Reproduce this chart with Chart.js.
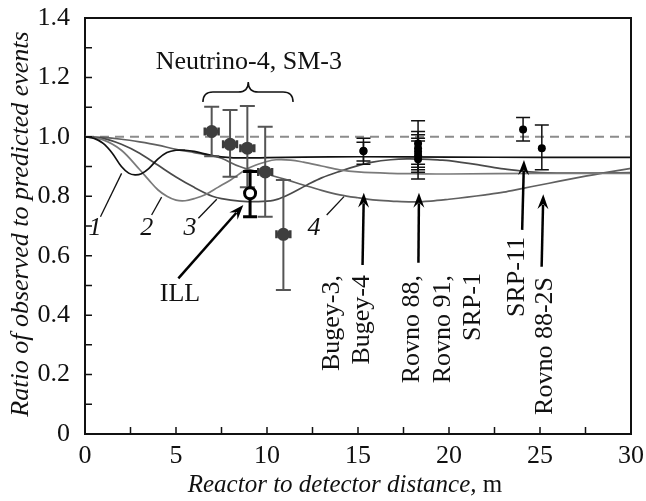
<!DOCTYPE html>
<html>
<head>
<meta charset="utf-8">
<script src="https://cdn.jsdelivr.net/npm/chart.js@4.4.1/dist/chart.umd.min.js"></script>
<style>
  html, body { margin: 0; padding: 0; background: #fff; }
</style>
</head>
<body>
<canvas id="chart" width="646" height="501"></canvas>
<script>
// values
const curve1X = [0, 0.5, 1, 1.5, 2, 2.4, 2.75, 3.1, 3.5, 4, 4.5, 5, 5.5, 6, 7, 8, 9, 10, 12, 15, 20, 25, 30];
const curve1Y = [1.0, 0.995, 0.978, 0.945, 0.9, 0.878, 0.872, 0.876, 0.893, 0.925, 0.947, 0.955, 0.955, 0.951, 0.937, 0.93, 0.929, 0.93, 0.932, 0.933, 0.932, 0.931, 0.931];

const curve2X = [0, 1, 2, 3, 3.5, 4, 4.5, 5, 5.5, 6, 6.6, 7.3, 8, 9, 10, 10.5, 11.3, 12, 13, 14, 15, 16.8, 18, 20, 25, 30];
const curve2Y = [1.0, 0.99, 0.955, 0.89, 0.855, 0.822, 0.8, 0.787, 0.785, 0.792, 0.805, 0.83, 0.855, 0.895, 0.917, 0.923, 0.922, 0.915, 0.902, 0.889, 0.882, 0.877, 0.876, 0.875, 0.877, 0.877];

const curve3X = [0, 1, 2, 3, 4, 5, 6, 7, 7.5, 8.5, 9.5, 10.35, 11, 12.2, 13, 14, 15, 15.8, 16.8, 17.7, 18.5, 19.5, 20, 21.7, 23, 24, 25, 27, 30];
const curve3Y = [1.0, 0.995, 0.975, 0.945, 0.905, 0.865, 0.83, 0.8, 0.792, 0.784, 0.782, 0.786, 0.8, 0.838, 0.862, 0.884, 0.903, 0.915, 0.923, 0.926, 0.925, 0.922, 0.92, 0.905, 0.892, 0.885, 0.88, 0.878, 0.88];

const curve4X = [0, 1, 2, 3, 4, 5, 6, 7, 7.5, 8.5, 10, 11, 12, 13, 14, 15, 16, 17, 18, 19, 20, 21, 22, 23, 24, 25, 26, 27, 28, 29, 30];
const curve4Y = [1.0, 0.998, 0.992, 0.983, 0.972, 0.958, 0.947, 0.936, 0.928, 0.9, 0.874, 0.857, 0.838, 0.82, 0.805, 0.795, 0.787, 0.783, 0.781, 0.784, 0.79, 0.797, 0.805, 0.814, 0.826, 0.838, 0.85, 0.862, 0.873, 0.884, 0.894];

// Neutrino-4, SM-3
const n4X = [6.96, 7.97, 8.92, 9.9, 10.9];
const n4Y = [1.018, 0.975, 0.962, 0.882, 0.672];
const n4Low = [0.935, 0.866, 0.83, 0.731, 0.485];
const n4High = [1.101, 1.09, 1.104, 1.034, 0.855];
const n4XErr = [0.38, 0.38, 0.38, 0.38, 0.38];

// ILL
const illX = [9.07];
const illY = [0.81];
const illLow = [0.731];
const illHigh = [0.883];

// Bugey-3, Bugey-4
const bugeyX = [15.3, 15.3];
const bugeyY = [0.952, 0.952];
const bugeyLow = [0.908, 0.919];
const bugeyHigh = [0.995, 0.982];

// Rovno 88, Rovno 91, SRP-1
const rovnoX = [18.3, 18.3, 18.3, 18.3, 18.3];
const rovnoY = [0.978, 0.962, 0.95, 0.938, 0.925];
const rovnoLow = [0.908, 0.898, 0.889, 0.881, 0.858];
const rovnoHigh = [1.054, 1.018, 1.007, 0.995, 0.986];

// SRP-11
const srpX = [24.07];
const srpY = [1.025];
const srpLow = [0.986];
const srpHigh = [1.065];

// Rovno 88-2S
const rov2sX = [25.1];
const rov2sY = [0.962];
const rov2sLow = [0.889];
const rov2sHigh = [1.04];

const FONT = "'Liberation Serif', 'Times New Roman', serif";

function pts(xs, ys) {
    return xs.map((x, i) => ({ x: x, y: ys[i] }));
}

function pointSet(label, xs, ys, lo, hi, style) {
    return Object.assign({
        type: 'scatter',
        label: label,
        data: pts(xs, ys),
        errLow: lo,
        errHigh: hi,
        showLine: false
    }, style);
}

const smallDot = {
    pointRadius: 4,
    pointBackgroundColor: '#000',
    pointBorderWidth: 0,
    errColor: '#111',
    errWidth: 1.5,
    capHalf: 7
};

// error bars are drawn just before the points of their dataset
const errorBars = {
    id: 'errorBars',
    beforeDatasetDraw(chart, args) {
        const ds = chart.data.datasets[args.index];
        if (!ds.errLow) return;
        const { ctx, scales: { x, y } } = chart;
        ctx.save();
        ctx.strokeStyle = ds.errColor;
        ctx.lineWidth = ds.errWidth;
        ds.data.forEach((p, i) => {
            const px = x.getPixelForValue(p.x);
            const lo = y.getPixelForValue(ds.errLow[i]);
            const hi = y.getPixelForValue(ds.errHigh[i]);
            const c = ds.capHalf;
            ctx.beginPath();
            ctx.moveTo(px, lo); ctx.lineTo(px, hi);
            ctx.moveTo(px - c, lo); ctx.lineTo(px + c, lo);
            ctx.moveTo(px - c, hi); ctx.lineTo(px + c, hi);
            ctx.stroke();
            if (ds.xErr) {
                const py = y.getPixelForValue(p.y);
                const l = x.getPixelForValue(p.x - ds.xErr[i]);
                const r = x.getPixelForValue(p.x + ds.xErr[i]);
                ctx.save();
                ctx.strokeStyle = '#3a3a3a';
                ctx.lineWidth = 2.5;
                ctx.beginPath();
                ctx.moveTo(l, py); ctx.lineTo(r, py);
                ctx.moveTo(l, py - 4); ctx.lineTo(l, py + 4);
                ctx.moveTo(r, py - 4); ctx.lineTo(r, py + 4);
                ctx.stroke();
                ctx.restore();
            }
        });
        ctx.restore();
    }
};

function arrow(ctx, x0, y0, x1, y1) {
    const a = Math.atan2(y1 - y0, x1 - x0);
    const L = 15, W = 5.5;
    ctx.beginPath();
    ctx.moveTo(x0, y0);
    ctx.lineTo(x1 - L * 0.7 * Math.cos(a), y1 - L * 0.7 * Math.sin(a));
    ctx.stroke();
    ctx.save();
    ctx.translate(x1, y1);
    ctx.rotate(a);
    ctx.beginPath();
    ctx.moveTo(0, 0);
    ctx.lineTo(-L, -W);
    ctx.lineTo(-L * 0.65, 0);
    ctx.lineTo(-L, W);
    ctx.closePath();
    ctx.fill();
    ctx.restore();
}

const decorations = {
    id: 'decorations',
    afterDraw(chart) {
        const { ctx, chartArea: a, scales: { x, y } } = chart;
        const X = v => x.getPixelForValue(v);
        const Y = v => y.getPixelForValue(v);
        ctx.save();

        // inward ticks
        ctx.strokeStyle = '#111';
        ctx.lineWidth = 1.5;
        ctx.beginPath();
        for (let v = 0.1; v < 1.4; v += 0.1) {
            ctx.moveTo(a.left, Y(v)); ctx.lineTo(a.left + 7, Y(v));
        }
        for (let v = 2.5; v < 30; v += 2.5) {
            ctx.moveTo(X(v), a.bottom); ctx.lineTo(X(v), a.bottom - 7);
        }
        ctx.stroke();

        // top and right frame
        ctx.lineWidth = 2;
        ctx.beginPath();
        ctx.moveTo(a.left, a.top); ctx.lineTo(a.right, a.top); ctx.lineTo(a.right, a.bottom);
        ctx.stroke();

        ctx.fillStyle = '#111';

        // axis titles
        const t1 = 'Reactor to detector distance, ';
        ctx.font = '25px ' + FONT;
        const wm = ctx.measureText('m').width;
        ctx.font = 'italic 25px ' + FONT;
        const w1 = ctx.measureText(t1).width;
        const sx = 345 - (w1 + wm) / 2;
        ctx.textBaseline = 'middle';
        ctx.textAlign = 'left';
        ctx.fillText(t1, sx, 485);
        ctx.font = '25px ' + FONT;
        ctx.fillText('m', sx + w1, 485);

        ctx.save();
        ctx.translate(21, 224);
        ctx.rotate(-Math.PI / 2);
        ctx.textAlign = 'center';
        ctx.font = 'italic 26px ' + FONT;
        ctx.fillText('Ratio of observed to predicted events', 0, 0);
        ctx.restore();

        // curve numbers with leaders
        ctx.lineWidth = 1.3;
        ctx.textAlign = 'center';
        ctx.font = 'italic 26px ' + FONT;
        const labels = [
            ['1', 0.55, 0.693, 0.85, 0.731, 2.01, 0.877],
            ['2', 3.39, 0.693, 3.66, 0.737, 4.21, 0.797],
            ['3', 5.77, 0.693, 6.23, 0.726, 7.24, 0.79],
            ['4', 12.58, 0.693, 13.28, 0.737, 14.23, 0.799]
        ];
        labels.forEach(l => {
            ctx.fillText(l[0], X(l[1]), Y(l[2]));
            ctx.beginPath();
            ctx.moveTo(X(l[3]), Y(l[4])); ctx.lineTo(X(l[5]), Y(l[6]));
            ctx.stroke();
        });

        // Neutrino-4 label and brace
        ctx.font = '26px ' + FONT;
        ctx.fillText('Neutrino-4, SM-3', X(9.0), Y(1.252));
        const bl = X(6.48), br = X(11.43), bm = X(8.97);
        const b0 = Y(1.117), b1 = Y(1.151), b2 = Y(1.185);
        ctx.lineWidth = 1.5;
        ctx.beginPath();
        ctx.moveTo(bl, b0);
        ctx.quadraticCurveTo(bl, b1, bl + 10, b1);
        ctx.lineTo(bm - 10, b1);
        ctx.quadraticCurveTo(bm, b1, bm, b2);
        ctx.quadraticCurveTo(bm, b1, bm + 10, b1);
        ctx.lineTo(br - 10, b1);
        ctx.quadraticCurveTo(br, b1, br, b0);
        ctx.stroke();

        // ILL
        ctx.fillText('ILL', X(5.22), Y(0.471));
        ctx.lineWidth = 2.5;
        ctx.fillStyle = '#000';
        ctx.strokeStyle = '#000';
        arrow(ctx, X(5.13), Y(0.524), X(8.7), Y(0.771));

        // vertical arrows to the experiments
        arrow(ctx, X(15.25), Y(0.569), X(15.32), Y(0.812));
        arrow(ctx, X(18.32), Y(0.576), X(18.35), Y(0.812));
        arrow(ctx, X(24.02), Y(0.687), X(24.12), Y(0.922));
        arrow(ctx, X(25.09), Y(0.563), X(25.18), Y(0.807));

        // rotated experiment names
        ctx.fillStyle = '#111';
        ctx.font = '26px ' + FONT;
        const names = [
            ['Bugey-3,', 331.7, 275],
            ['Bugey-4', 361.7, 275],
            ['Rovno 88,', 411.7, 275],
            ['Rovno 91,', 443.3, 275],
            ['SRP-1', 472.7, 273],
            ['SRP-11', 516.7, 237],
            ['Rovno 88-2S', 545, 277]
        ];
        names.forEach(n => {
            ctx.save();
            ctx.translate(n[1], n[2]);
            ctx.rotate(-Math.PI / 2);
            ctx.textAlign = 'right';
            ctx.textBaseline = 'middle';
            ctx.fillText(n[0], 0, 0);
            ctx.restore();
        });

        ctx.restore();
    }
};

function curve(xs, ys, color) {
    return {
        type: 'line',
        data: pts(xs, ys),
        borderColor: color,
        borderWidth: 1.7,
        pointRadius: 0,
        tension: 0.35,
        fill: false
    };
}

new Chart(document.getElementById('chart'), {
    type: 'scatter',
    data: {
        datasets: [
            pointSet('ILL', illX, illY, illLow, illHigh, {
                pointRadius: 5.5, pointBackgroundColor: '#fff', pointBorderColor: '#000',
                pointBorderWidth: 3, errColor: '#000', errWidth: 3, capHalf: 7
            }),
            pointSet('Neutrino-4', n4X, n4Y, n4Low, n4High, {
                pointRadius: 6.5, pointBackgroundColor: '#3e3e3e', pointBorderWidth: 0,
                errColor: '#555', errWidth: 2, capHalf: 7.5, xErr: n4XErr
            }),
            pointSet('Bugey', bugeyX, bugeyY, bugeyLow, bugeyHigh, smallDot),
            pointSet('Rovno', rovnoX, rovnoY, rovnoLow, rovnoHigh, smallDot),
            pointSet('SRP-11', srpX, srpY, srpLow, srpHigh, smallDot),
            pointSet('Rovno 88-2S', rov2sX, rov2sY, rov2sLow, rov2sHigh, smallDot),
            curve(curve1X, curve1Y, '#111'),
            curve(curve2X, curve2Y, '#7a7a7a'),
            curve(curve3X, curve3Y, '#4a4a4a'),
            curve(curve4X, curve4Y, '#606060'),
            {
                type: 'line',
                data: [{ x: 0, y: 1 }, { x: 30, y: 1 }],
                borderColor: '#8c8c8c',
                borderWidth: 2,
                borderDash: [9, 6],
                pointRadius: 0
            }
        ]
    },
    options: {
        responsive: false,
        animation: false,
        devicePixelRatio: 1,
        layout: { padding: { top: 18, right: 15, left: 0, bottom: 0 } },
        plugins: { legend: { display: false }, tooltip: { enabled: false } },
        scales: {
            x: {
                type: 'linear', min: 0, max: 30,
                grid: { display: false, drawTicks: false },
                border: { display: true, color: '#111', width: 2 },
                ticks: { stepSize: 5, padding: 7, color: '#111', font: { family: FONT, size: 26 } },
                afterFit(s) { s.height = 67; s.paddingLeft = 0; s.paddingRight = 0; }
            },
            y: {
                type: 'linear', min: 0, max: 1.4,
                grid: { display: false, drawTicks: false },
                border: { display: true, color: '#111', width: 2 },
                ticks: {
                    stepSize: 0.2, padding: 15, color: '#111', font: { family: FONT, size: 26 },
                    callback: v => (Math.abs(v) < 1e-9 ? '0' : v.toFixed(1))
                },
                afterFit(s) { s.width = 85; s.paddingTop = 0; s.paddingBottom = 0; }
            }
        }
    },
    plugins: [errorBars, decorations]
});
</script>
</body>
</html>
